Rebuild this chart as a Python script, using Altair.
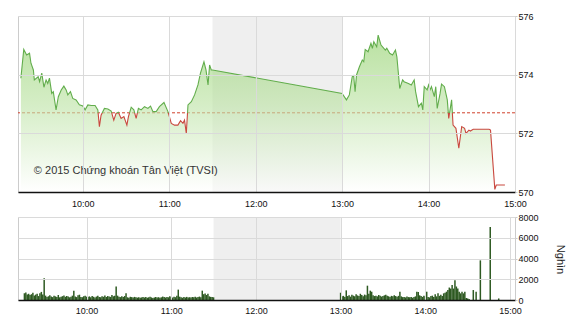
import altair as alt
import pandas as pd

DAY = "2015-01-01T"

# ---- price series (intraday index) ----
price_times = [
    "09:17:00", "09:19:00", "09:21:00", "09:23:00", "09:24:00", "09:25:40", "09:26:20", "09:29:00",
    "09:30:00", "09:31:30", "09:33:00", "09:34:30", "09:35:40", "09:36:50", "09:38:25", "09:39:30",
    "09:41:25", "09:43:00", "09:45:00", "09:46:50", "09:48:25", "09:49:35", "09:51:25", "09:53:00",
    "09:55:20", "09:57:35", "10:00:00", "10:01:35", "10:03:30", "10:05:50", "10:08:30", "10:10:25",
    "10:11:30", "10:12:40", "10:15:00", "10:17:25", "10:19:40", "10:21:30", "10:23:05", "10:24:40",
    "10:26:35", "10:28:30", "10:30:35", "10:31:40", "10:33:35", "10:35:25", "10:37:00", "10:38:35",
    "10:40:30", "10:42:50", "10:45:10", "10:47:00", "10:48:40", "10:50:55", "10:53:10", "10:56:20",
    "10:59:05", "11:01:25", "11:03:40", "11:06:00", "11:07:50", "11:09:30", "11:10:35", "11:11:50",
    "11:13:00", "11:15:20", "11:17:35", "11:19:55", "11:21:40", "11:24:05", "11:25:30", "11:26:55",
    "11:28:00", "11:29:10", "11:30:00",
    "13:00:00", "13:03:00", "13:05:00", "13:07:00", "13:08:00", "13:09:00", "13:10:00", "13:12:00",
    "13:14:00", "13:15:00", "13:16:00", "13:18:00", "13:20:00", "13:21:00", "13:22:00", "13:24:00",
    "13:25:00", "13:27:00", "13:30:00", "13:31:00", "13:33:00", "13:35:00", "13:37:00", "13:38:00",
    "13:40:00", "13:42:00", "13:43:00", "13:46:00", "13:48:00", "13:50:00", "13:51:00", "13:53:00",
    "13:55:00", "13:56:00", "13:57:00", "13:59:00", "14:00:00", "14:01:00", "14:02:00", "14:04:00",
    "14:05:00", "14:06:00", "14:08:00", "14:09:00", "14:11:00", "14:13:00", "14:14:00", "14:16:00",
    "14:17:00", "14:19:00", "14:21:00", "14:23:00", "14:25:00", "14:26:00", "14:28:00", "14:29:00",
    "14:31:00", "14:42:00", "14:43:00", "14:46:00", "14:47:00", "14:53:00",
]
prices = [
    573.88, 574.86, 574.67, 574.73, 574.39, 574.16, 573.82, 573.93,
    573.76, 574.05, 573.57, 573.82, 573.70, 573.88, 573.36, 573.42,
    572.80, 573.25, 573.48, 573.61, 573.48, 573.31, 573.42, 573.19,
    573.14, 572.97, 572.93, 572.80, 572.97, 572.95, 572.95, 572.80,
    572.23, 572.62, 572.85, 572.83, 572.76, 572.45, 572.68, 572.72,
    572.51, 572.57, 572.28, 572.57, 572.89, 572.80, 572.51, 572.85,
    572.80, 572.91, 572.85, 572.93, 572.74, 572.74, 572.91, 573.05,
    572.74, 572.34, 572.28, 572.28, 572.43, 572.34, 572.45, 572.00,
    572.97, 573.08, 573.31, 573.65, 574.05, 574.44, 574.16, 573.65,
    574.33, 574.16, 574.16,
    573.36, 573.14, 573.31, 573.93, 573.97, 573.42, 573.99, 574.27,
    574.50, 574.44, 574.86, 574.78, 575.07, 574.90, 575.12, 574.95,
    575.35, 575.01, 574.84, 574.90, 574.73, 574.67, 574.84, 574.61,
    573.53, 573.82, 573.76, 573.70, 573.65, 573.82, 573.42, 572.91,
    573.03, 572.80, 573.59, 573.48, 573.65, 573.48, 573.59, 573.25,
    573.59, 572.85, 573.36, 573.68, 573.59, 573.14, 572.51, 573.14,
    572.28, 572.17, 571.49, 572.23, 572.17, 572.00, 572.11, 572.08,
    572.14, 572.14, 572.11, 570.09, 570.24, 570.24,
]
ref_price = 572.7
price_floor = 570

# ---- volume (per minute, thousand shares) ----
vol_am_start = (9, 16)
vol_am = [
    650, 720, 540, 600, 480, 560, 700, 430, 520, 610,
    380, 640, 780, 520, 2090, 420, 300, 360, 450, 330,
    280, 410, 350, 300, 480, 260, 320, 370, 440, 310,
    390, 340, 260, 310, 420, 900, 330, 280, 460, 510,
    300, 270, 360, 410, 320, 290, 350, 260, 380, 310,
    250, 330, 400, 300, 270, 350, 310, 440, 290, 380,
    340, 300, 480, 360, 400, 1300, 420, 310, 280, 350,
    300, 380, 640, 260, 220, 310, 280, 240, 300, 260,
    230, 270, 210, 250, 300, 240, 280, 220, 260, 310,
    250, 200, 240, 290, 230, 270, 210, 260, 330, 280,
    240, 300, 260, 350, 280, 240, 310, 270, 400, 1000,
    320, 260, 220, 280, 240, 300, 230, 270, 250, 290,
    260, 310, 240, 280, 330, 270, 900, 560, 620, 480,
    600, 350, 300, 280, 260,
]
vol_pm_start = (13, 0)
vol_pm = [
    700, 350, 400, 300, 930, 380, 450, 320, 500, 420,
    360, 560, 440, 380, 600, 480, 350, 520, 450, 1380,
    600, 900, 800, 450, 380, 420, 350, 480, 400, 330,
    380, 450, 500, 420, 360, 300, 400, 350, 450, 380,
    320, 400, 800, 350, 280, 300, 250, 330, 280, 260,
    300, 220, 280, 350, 800, 780, 450, 380, 300, 400,
    350, 800, 300, 250, 380, 420, 300, 560, 350, 640,
    400, 500, 380, 640, 700, 800, 960, 1200, 1100, 1440,
    1100, 1900, 1300, 1100, 800, 640, 800, 640, 800, 200,
    150, 100,
]
vol_late_times = ["14:34", "14:36", "14:39", "14:46", "14:52"]
vol_late = [960, 800, 3820, 7040, 150]

break_start, break_end = "11:30", "13:00"
hours = [10, 11, 12, 13, 14, 15]
price_ticks = [570, 572, 574, 576]
vol_ticks = [0, 2000, 4000, 6000, 8000]
note_text = "© 2015 Chứng khoán Tân Việt (TVSI)"
note_time, note_price = "09:26", 570.7
vol_title = "Nghìn"

FONT = "Liberation Sans"
GREEN = "#62ad4c"
RED = "#c9483f"


def ts(t):
    if len(t) == 5:
        t += ":00"
    return DAY + t


def minutes_from(start, n):
    h, m = start
    out = []
    for i in range(n):
        tot = h * 60 + m + i
        out.append(f"{tot // 60:02d}:{tot % 60:02d}")
    return out


price_df = pd.DataFrame({"t": [ts(t) for t in price_times], "price": prices,
                         "floor": [price_floor] * len(prices)})
vol_times = minutes_from(vol_am_start, len(vol_am)) + minutes_from(vol_pm_start, len(vol_pm)) + vol_late_times
vol_df = pd.DataFrame({"t": [ts(t) for t in vol_times], "vol": vol_am + vol_pm + vol_late})
band_df = pd.DataFrame({"s": [ts(break_start)], "e": [ts(break_end)]})
ref_df = pd.DataFrame({"price": [ref_price]})
note_df = pd.DataFrame({"t": [ts(note_time)], "price": [note_price], "label": [note_text]})


def dt(h, m=0):
    return alt.DateTime(year=2015, month=1, date=1, hours=h, minutes=m)


x_scale = alt.Scale(domain=[dt(9, 15), dt(15)])
x_values = [dt(h) for h in hours]


def x_axis(pad):
    return alt.Axis(values=x_values, format="%H:%M", title=None, grid=True, gridColor="#dadada",
                    ticks=False, tickSize=0, labelPadding=pad, labelFlush=False, labelFontSize=9,
                    labelColor="#111", labelFont=FONT, domainColor="#111", domainWidth=1.5, zindex=1)


price_scale = alt.Scale(domain=[570, 576], nice=False, zero=False)
price_axis = alt.Axis(orient="right", values=price_ticks, title=None, grid=True, gridColor="#dadada",
                      domain=False, ticks=True, tickSize=2, tickColor="#cccccc", labelPadding=1,
                      labelFontSize=9, labelColor="#111", labelFont=FONT, zindex=1)

xt = alt.X("t:T", scale=x_scale, axis=x_axis(7))
yp = alt.Y("price:Q", scale=price_scale, axis=price_axis)

band_top = alt.Chart(band_df).mark_rect(color="#efefef").encode(
    x=alt.X("s:T", scale=x_scale, axis=x_axis(7)), x2="e:T")

ref_rule = alt.Chart(ref_df).mark_rule(color="#d0402c", strokeDash=[3, 2], strokeWidth=1).encode(y=yp)

area = alt.Chart(price_df).mark_area(
    color=alt.LinearGradient(gradient="linear", x1=0, y1=0, x2=0, y2=1,
                             stops=[alt.GradientStop(color="#8fcf68", offset=0),
                                    alt.GradientStop(color="#bce3a4", offset=0.45),
                                    alt.GradientStop(color="#ffffff", offset=1)]),
    fillOpacity=0.62, clip=True,
).encode(x=xt, y=yp, y2="floor:Q")

pmax, pmin = max(prices), min(prices)
frac = (pmax - ref_price) / (pmax - pmin)
line = alt.Chart(price_df).mark_line(
    strokeWidth=1.1,
    stroke=alt.LinearGradient(gradient="linear", x1=0, y1=0, x2=0, y2=1,
                              stops=[alt.GradientStop(color=GREEN, offset=0),
                                     alt.GradientStop(color=GREEN, offset=frac),
                                     alt.GradientStop(color=RED, offset=frac),
                                     alt.GradientStop(color=RED, offset=1)]),
).encode(x=xt, y=yp)

note = alt.Chart(note_df).mark_text(align="left", baseline="middle", fontSize=11, color="#333333",
                                    font=FONT).encode(x=xt, y=yp, text="label:N")

top = alt.layer(band_top, ref_rule, area, line, note).properties(width=497, height=176)

xb = alt.X("t:T", scale=x_scale, axis=x_axis(6))
band_bot = alt.Chart(band_df).mark_rect(color="#efefef").encode(
    x=alt.X("s:T", scale=x_scale, axis=x_axis(6)), x2="e:T")

vol_axis = alt.Axis(orient="right", values=vol_ticks, format="d", title=vol_title, grid=True,
                    gridColor="#dadada", domain=False, ticks=True, tickSize=2, tickColor="#cccccc",
                    labelPadding=1, labelFontSize=9, labelColor="#111", labelFont=FONT, titleFont=FONT,
                    titleFontSize=11, titleFontWeight="normal", titleColor="#222", titleAngle=90,
                    titleX=44, titleY=42, titleAlign="center", titleBaseline="middle", zindex=1)

bars = alt.Chart(vol_df).mark_bar(color="#2e5a22", width=1.5).encode(
    x=xb, y=alt.Y("vol:Q", scale=alt.Scale(domain=[0, 8000], nice=False), axis=vol_axis))

bottom = alt.layer(band_bot, bars).properties(width=497, height=83)

chart = alt.vconcat(top, bottom, spacing=3).properties(
    padding={"left": 17, "top": 11, "right": 2, "bottom": 2}
).configure(font=FONT).configure_view(stroke="#cccccc")

chart.save("out.html", embed_options={"renderer": "svg", "actions": False})
